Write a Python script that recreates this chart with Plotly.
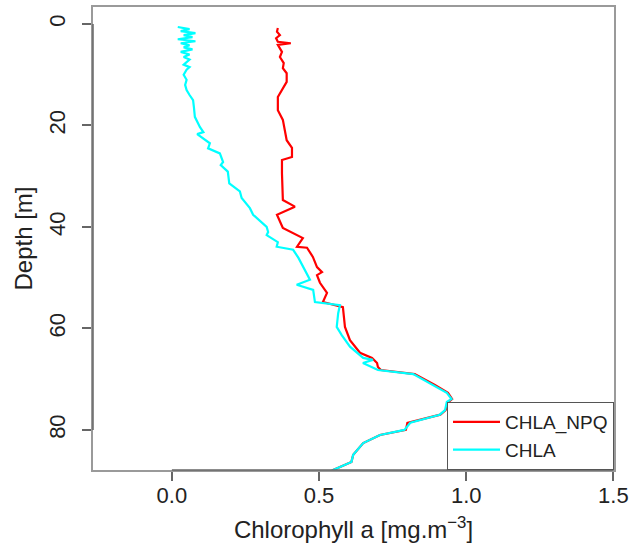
import plotly.graph_objects as go

# ---- data ----
chla_depth = [0.6, 1.0, 1.4, 1.8, 2.2, 2.6, 3.0, 3.4, 3.8, 4.2, 4.6, 5.0, 5.5, 6.0, 6.5,
              7.0, 7.5, 8.0, 8.5, 9.0, 10, 11, 12, 13, 14, 15, 16.5, 18.3, 20.3, 21.3,
              21.7, 23.5, 24.5, 25.5, 27.2, 27.8, 29.1, 31.4, 33, 34.3, 36.3, 37.6, 40,
              41, 41.6, 43, 43.9, 44.5, 46.1, 47.9, 50.4, 51.4, 52.4, 54.8, 55.4, 57,
              59.7, 61.3, 63.6, 65.8, 66.2, 66.8, 68.2, 69.0, 71.1, 72.7, 73.9, 74.5,
              76.1, 77, 78.6, 80, 81, 82.6, 84.9, 86.3, 87.9, 89]
chla_vals = [0.02, 0.06, 0.03, 0.08, 0.04, 0.07, 0.02, 0.08, 0.03, 0.06, 0.04, 0.07, 0.03,
             0.06, 0.04, 0.06, 0.05, 0.04, 0.06, 0.05, 0.04, 0.05, 0.045, 0.05, 0.06,
             0.072, 0.075, 0.078, 0.095, 0.107, 0.086, 0.129, 0.123, 0.163, 0.174, 0.166,
             0.19, 0.195, 0.231, 0.237, 0.265, 0.276, 0.322, 0.327, 0.322, 0.36, 0.356,
             0.412, 0.43, 0.446, 0.469, 0.424, 0.48, 0.486, 0.571, 0.565, 0.56, 0.577,
             0.605, 0.65, 0.683, 0.649, 0.70, 0.82, 0.887, 0.934, 0.95, 0.934, 0.928,
             0.91, 0.81, 0.79, 0.707, 0.65, 0.616, 0.61, 0.548, 0.52]

npq_depth = [0.8, 1.5, 2.2, 2.8, 3.5, 3.8, 4.1, 5.5, 6.5, 7.7, 8.7, 9.7, 11.4, 14.4, 17,
             18.9, 22.9, 24.4, 26.2, 26.8, 29.4, 34.7, 36, 37.6, 40.2, 42.2, 43.9, 44.1,
             45.9, 47.9, 48.9, 49.5, 51, 53, 54.8, 55.8, 59.7, 62.3, 64.8, 65.8, 66.8,
             67.6, 68.2, 69.0, 71.1, 72.7, 73.9, 74.5, 76.1, 77, 78.6, 80, 81, 82.6,
             84.9, 86.3, 87.9, 89]
npq_vals = [0.36, 0.357, 0.367, 0.354, 0.36, 0.404, 0.36, 0.374, 0.367, 0.38, 0.377, 0.39,
            0.39, 0.36, 0.36, 0.377, 0.39, 0.408, 0.408, 0.374, 0.374, 0.377, 0.418, 0.357,
            0.377, 0.445, 0.425, 0.459, 0.479, 0.493, 0.51, 0.493, 0.503, 0.527, 0.513,
            0.581, 0.588, 0.605, 0.639, 0.68, 0.697, 0.70, 0.71, 0.825, 0.892, 0.938,
            0.952, 0.94, 0.93, 0.912, 0.80, 0.795, 0.707, 0.65, 0.616, 0.61, 0.548, 0.52]

x_ticks = [0.0, 0.5, 1.0, 1.5]
x_ticklabels = ["0.0", "0.5", "1.0", "1.5"]
y_ticks = [0, 20, 40, 60, 80]
y_ticklabels = ["0", "20", "40", "60", "80"]

FONT = "Liberation Sans, Arial, sans-serif"

fig = go.Figure()
fig.add_trace(go.Scatter(x=npq_vals, y=npq_depth, mode="lines", name="CHLA_NPQ",
                         line=dict(color="#FF0000", width=2.2)))
fig.add_trace(go.Scatter(x=chla_vals, y=chla_depth, mode="lines", name="CHLA",
                         line=dict(color="#00FFFF", width=2.2)))

# darker axis segments over the tick range (R style)
fig.add_shape(type="line", xref="paper", yref="y", x0=0, x1=0,
              y0=min(y_ticks), y1=max(y_ticks), line=dict(color="#666666", width=1.5))
fig.add_shape(type="line", xref="x", yref="paper", y0=0, y1=0,
              x0=min(x_ticks), x1=max(x_ticks), line=dict(color="#666666", width=1.5))

fig.update_layout(
    width=633, height=546,
    margin=dict(l=93, r=19, t=7, b=76),
    paper_bgcolor="white", plot_bgcolor="white",
    font=dict(family=FONT, color="#222222"),
    showlegend=True,
    legend=dict(x=1, y=0, xanchor="right", yanchor="bottom",
                bgcolor="white", bordercolor="#555555", borderwidth=1,
                font=dict(size=19, family=FONT, color="#222222"),
                itemwidth=47),
)
fig.update_xaxes(
    range=[-0.268, 1.502], showgrid=False, zeroline=False,
    tickvals=x_ticks, ticktext=x_ticklabels,
    ticks="outside", ticklen=9, tickcolor="#666666", tickwidth=1.5,
    tickfont=dict(size=22, family=FONT, color="#222222"),
    ticklabelstandoff=-4,
    showline=True, mirror=True, linecolor="#9a9a9a", linewidth=1.5,
    title=dict(text="Chlorophyll a [mg.m<sup>−3</sup>]",
               font=dict(size=24, family=FONT, color="#222222"), standoff=14),
    automargin=False,
)
fig.update_yaxes(
    range=[87.9, -3.35], showgrid=False, zeroline=False,
    tickvals=y_ticks, ticktext=y_ticklabels, tickangle=-90,
    ticks="outside", ticklen=9, tickcolor="#666666", tickwidth=1.5,
    tickfont=dict(size=22, family=FONT, color="#222222"),
    ticklabelstandoff=8,
    showline=True, mirror=True, linecolor="#9a9a9a", linewidth=1.5,
    title=dict(text="Depth [m]", font=dict(size=24, family=FONT, color="#222222"),
               standoff=6),
    automargin=False,
)

fig.write_html("out.html")
